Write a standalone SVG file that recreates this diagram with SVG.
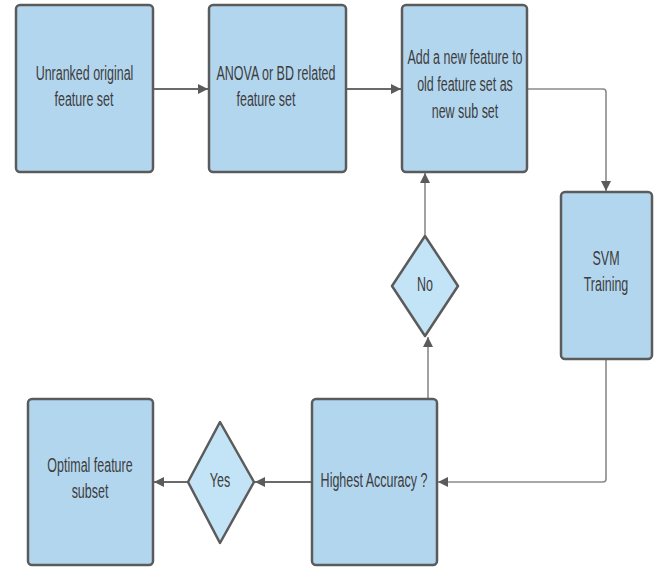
<svg xmlns="http://www.w3.org/2000/svg" width="661" height="569" viewBox="0 0 661 569">
<defs>
<style>
.box{fill:#b3d6ef;stroke:#5b5b5b;stroke-width:2.5}
.dia{fill:#c3e4f6;stroke:#5b5b5b;stroke-width:2.5;stroke-linejoin:round}
.t{font-family:"Liberation Sans",Arial,sans-serif;font-size:19.5px;fill:#3d3d3d;text-anchor:middle}
.c{fill:none;stroke:#6a6a6a;stroke-width:2}
.c2{fill:none;stroke:#8a8a8a;stroke-width:1.6}
</style>
<marker id="ah" viewBox="0 0 10 10" refX="10" refY="5" markerWidth="10" markerHeight="10" markerUnits="userSpaceOnUse" orient="auto">
<path d="M0,0 L10,5 L0,10 z" fill="#5b5b5b"/>
</marker>
</defs>
<rect width="661" height="569" fill="#ffffff"/>
<g id="connectors">
<line class="c" x1="154" y1="89" x2="208" y2="89" marker-end="url(#ah)"/>
<line class="c" x1="347" y1="89" x2="401" y2="89" marker-end="url(#ah)"/>
<path class="c2" d="M528,89 H603 Q606,89 606,92 V191" marker-end="url(#ah)"/>
<path class="c2" d="M606,360 V479 Q606,482 603,482 H438" marker-end="url(#ah)"/>
<line class="c2" x1="428" y1="398" x2="428" y2="337" marker-end="url(#ah)"/>
<line class="c2" x1="425" y1="235" x2="425" y2="173" marker-end="url(#ah)"/>
<line class="c" x1="311" y1="482" x2="255" y2="482" marker-end="url(#ah)"/>
<line class="c" x1="187" y1="482" x2="154" y2="482" marker-end="url(#ah)"/>
</g>
<g id="n1">
<rect class="box" x="16" y="5" width="137" height="167" rx="4"/>
<text class="t" transform="translate(84.5,80) scale(0.64,1)">Unranked original</text>
<text class="t" transform="translate(84,106) scale(0.64,1)">feature set</text>
</g>
<g id="n2">
<rect class="box" x="209" y="5" width="137" height="167" rx="4"/>
<text class="t" transform="translate(276,80) scale(0.64,1)">ANOVA or BD related</text>
<text class="t" transform="translate(266,106) scale(0.64,1)">feature set</text>
</g>
<g id="n3">
<rect class="box" x="402" y="5" width="125" height="167" rx="4"/>
<text class="t" transform="translate(465,64) scale(0.64,1)">Add a new feature to</text>
<text class="t" transform="translate(465,91) scale(0.64,1)">old feature set as</text>
<text class="t" transform="translate(465,118) scale(0.64,1)">new sub set</text>
</g>
<g id="n4">
<rect class="box" x="561" y="192" width="91" height="167" rx="4"/>
<text class="t" transform="translate(606,265) scale(0.64,1)">SVM</text>
<text class="t" transform="translate(606,291) scale(0.64,1)">Training</text>
</g>
<g id="n5">
<path class="dia" d="M425,236 L458,286 L425,336 L392,286 Z"/>
<text class="t" transform="translate(425,291) scale(0.64,1)">No</text>
</g>
<g id="n6">
<rect class="box" x="312" y="399" width="125" height="166" rx="4"/>
<text class="t" transform="translate(374,487) scale(0.64,1)">Highest Accuracy ?</text>
</g>
<g id="n7">
<path class="dia" d="M220,422 L254,482 L220,543 L188,482 Z"/>
<text class="t" transform="translate(220,487) scale(0.64,1)">Yes</text>
</g>
<g id="n8">
<rect class="box" x="28" y="399" width="125" height="166" rx="4"/>
<text class="t" transform="translate(90,472) scale(0.64,1)">Optimal feature</text>
<text class="t" transform="translate(90,498) scale(0.64,1)">subset</text>
</g>
</svg>
